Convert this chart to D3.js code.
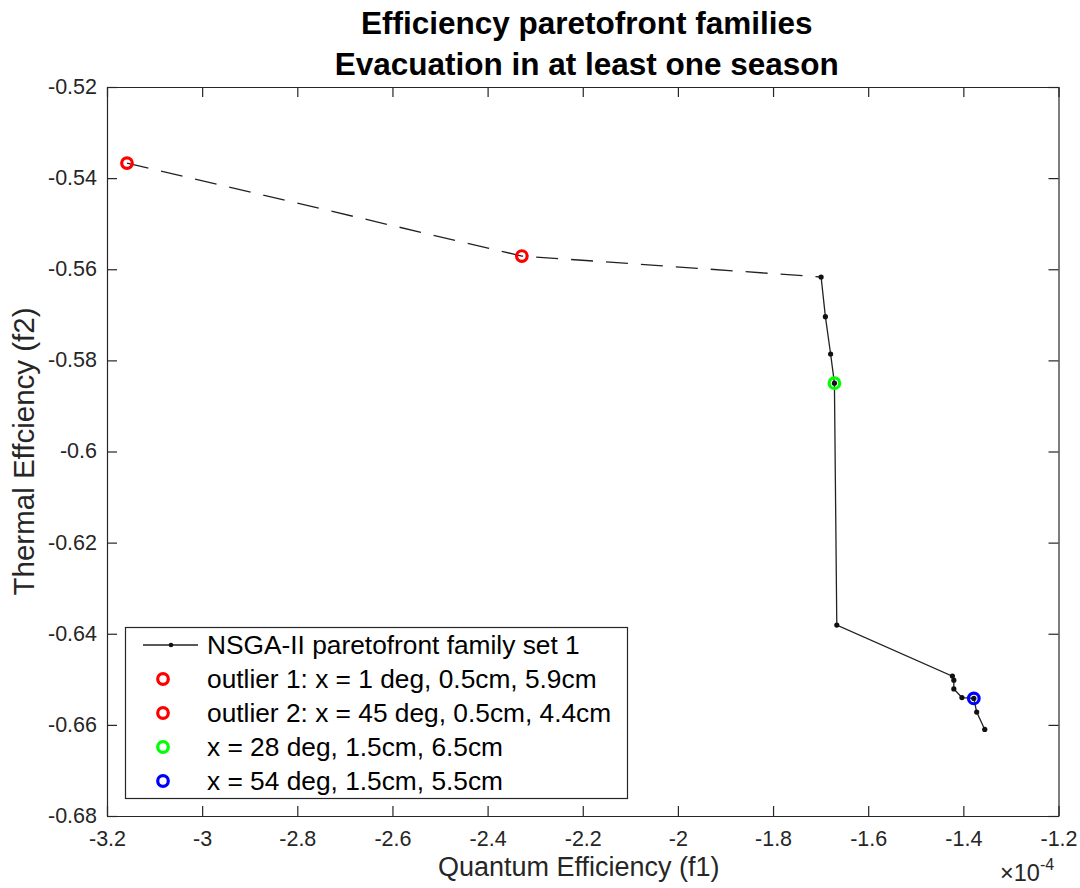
<!DOCTYPE html>
<html>
<head>
<meta charset="utf-8">
<script src="https://cdn.jsdelivr.net/npm/d3@7"></script>
<style>
  html, body { margin: 0; padding: 0; background: #fff; }
  svg { display: block; font-family: "Liberation Sans", Arial, Helvetica, sans-serif; }
</style>
</head>
<body>
<svg id="chart" width="1080" height="888"></svg>
<script>
// Pareto front (f1 in units of 1e-4, f2)
const paretoF1 = [-1.699, -1.690, -1.679, -1.671, -1.666, -1.423, -1.420, -1.420, -1.403, -1.378, -1.372, -1.355];
const paretoF2 = [-0.5617, -0.5704, -0.5786, -0.5850, -0.6381, -0.6493, -0.6502, -0.6521, -0.6540, -0.6542, -0.6572, -0.6610];

// Highlighted designs
const highlightNames = [
  "outlier 1: x = 1 deg, 0.5cm, 5.9cm",
  "outlier 2: x = 45 deg, 0.5cm, 4.4cm",
  "x = 28 deg, 1.5cm, 6.5cm",
  "x = 54 deg, 1.5cm, 5.5cm"
];
const highlightF1 = [-3.158, -2.328, -1.671, -1.378];
const highlightF2 = [-0.5367, -0.5571, -0.5850, -0.6542];
const highlightColors = ["#ff0000", "#ff0000", "#00ff00", "#0000ff"];

const seriesName = "NSGA-II paretofront family set 1";
const xTicks = [-3.2, -3, -2.8, -2.6, -2.4, -2.2, -2, -1.8, -1.6, -1.4, -1.2];
const yTicks = [-0.52, -0.54, -0.56, -0.58, -0.6, -0.62, -0.64, -0.66, -0.68];
const xDomain = [-3.2, -1.2];
const yDomain = [-0.68, -0.52];

const svg = d3.select("#chart");
const L = 107, R = 1058.5, T = 87, B = 816;
const axisColor = "#262626";

const x = d3.scaleLinear().domain(xDomain).range([L, R]);
const y = d3.scaleLinear().domain(yDomain).range([B, T]);

// Axes with inward ticks on all four sides
const tickLen = 10;
const fmt = d => String(d);
const axB = svg.append("g").attr("transform", `translate(0,${B})`)
  .call(d3.axisBottom(x).tickValues(xTicks).tickSizeInner(-tickLen).tickSizeOuter(0).tickPadding(15).tickFormat(fmt));
const axT = svg.append("g").attr("transform", `translate(0,${T})`)
  .call(d3.axisTop(x).tickValues(xTicks).tickSizeInner(-tickLen).tickSizeOuter(0).tickFormat(""));
const axL = svg.append("g").attr("transform", `translate(${L},0)`)
  .call(d3.axisLeft(y).tickValues(yTicks).tickSizeInner(-tickLen).tickSizeOuter(0).tickPadding(10).tickFormat(fmt));
const axR = svg.append("g").attr("transform", `translate(${R},0)`)
  .call(d3.axisRight(y).tickValues(yTicks).tickSizeInner(-tickLen).tickSizeOuter(0).tickFormat(""));
[axB, axT, axL, axR].forEach(g => {
  g.selectAll("path").attr("stroke", axisColor).attr("stroke-width", 1.2);
  g.selectAll("line").attr("stroke", axisColor).attr("stroke-width", 1.2);
  g.selectAll("text").attr("fill", axisColor).attr("font-size", 21.5)
    .attr("font-family", "'Liberation Sans', Arial, sans-serif");
});
axL.selectAll("text").attr("dy", "0.3em");

// Exponent label
const expG = svg.append("text").attr("x", 1000).attr("y", 881).attr("fill", axisColor)
  .attr("font-size", 23.5);
expG.append("tspan").text("\u00d710");
expG.append("tspan").attr("dy", -11).attr("font-size", 16).text("-4");

// Axis labels
svg.append("text").attr("x", (L + R) / 2 - 4).attr("y", 876).attr("text-anchor", "middle")
  .attr("font-size", 27).attr("fill", axisColor).text("Quantum Efficiency (f1)");
svg.append("text").attr("transform", `translate(34,${(T + B) / 2}) rotate(-90)`)
  .attr("text-anchor", "middle").attr("font-size", 29.5).attr("fill", axisColor)
  .text("Thermal Effciency (f2)");

// Title
const title = svg.append("text").attr("text-anchor", "middle").attr("font-weight", "bold")
  .attr("font-size", 31.5).attr("fill", "#000");
title.append("tspan").attr("x", (L + R) / 2 + 4).attr("y", 34).text("Efficiency paretofront families");
title.append("tspan").attr("x", (L + R) / 2 + 4).attr("y", 75).text("Evacuation in at least one season");

// Dashed connector from the outliers to the start of the front
const connector = [
  [highlightF1[0], highlightF2[0]],
  [highlightF1[1], highlightF2[1]],
  [paretoF1[0], paretoF2[0]]
];
const line = d3.line().x(d => x(d[0])).y(d => y(d[1]));
svg.append("path").datum(connector).attr("d", line).attr("fill", "none")
  .attr("stroke", "#222").attr("stroke-width", 1.3).attr("stroke-dasharray", "22,13");

// Pareto front
const front = paretoF1.map((v, i) => [v, paretoF2[i]]);
svg.append("path").datum(front).attr("d", line).attr("fill", "none")
  .attr("stroke", "#222").attr("stroke-width", 1.3);
svg.append("g").selectAll("circle").data(front).join("circle")
  .attr("cx", d => x(d[0])).attr("cy", d => y(d[1])).attr("r", 2.6).attr("fill", "#111");

// Highlighted markers
svg.append("g").selectAll("circle").data(highlightF1).join("circle")
  .attr("cx", (d, i) => x(d)).attr("cy", (d, i) => y(highlightF2[i])).attr("r", 5.3)
  .attr("fill", "none").attr("stroke", (d, i) => highlightColors[i]).attr("stroke-width", 3.2);

// Legend
const lg = svg.append("g");
lg.append("rect").attr("x", 125.5).attr("y", 627.5).attr("width", 502).attr("height", 171)
  .attr("fill", "#fff").attr("stroke", axisColor).attr("stroke-width", 1.2);
const rowY = i => 645 + i * 34;
lg.append("line").attr("x1", 143).attr("x2", 198).attr("y1", rowY(0)).attr("y2", rowY(0))
  .attr("stroke", "#222").attr("stroke-width", 1.3);
lg.append("circle").attr("cx", 171).attr("cy", rowY(0)).attr("r", 2.3).attr("fill", "#111");
lg.append("text").attr("x", 207).attr("y", rowY(0)).attr("dy", "0.35em").attr("font-size", 26.3)
  .attr("fill", "#000").text(seriesName);
highlightNames.forEach((name, i) => {
  lg.append("circle").attr("cx", 163).attr("cy", rowY(i + 1)).attr("r", 5.3)
    .attr("fill", "none").attr("stroke", highlightColors[i]).attr("stroke-width", 3.2);
  lg.append("text").attr("x", 207).attr("y", rowY(i + 1)).attr("dy", "0.35em").attr("font-size", 26.3)
    .attr("fill", "#000").text(name);
});
</script>
</body>
</html>
